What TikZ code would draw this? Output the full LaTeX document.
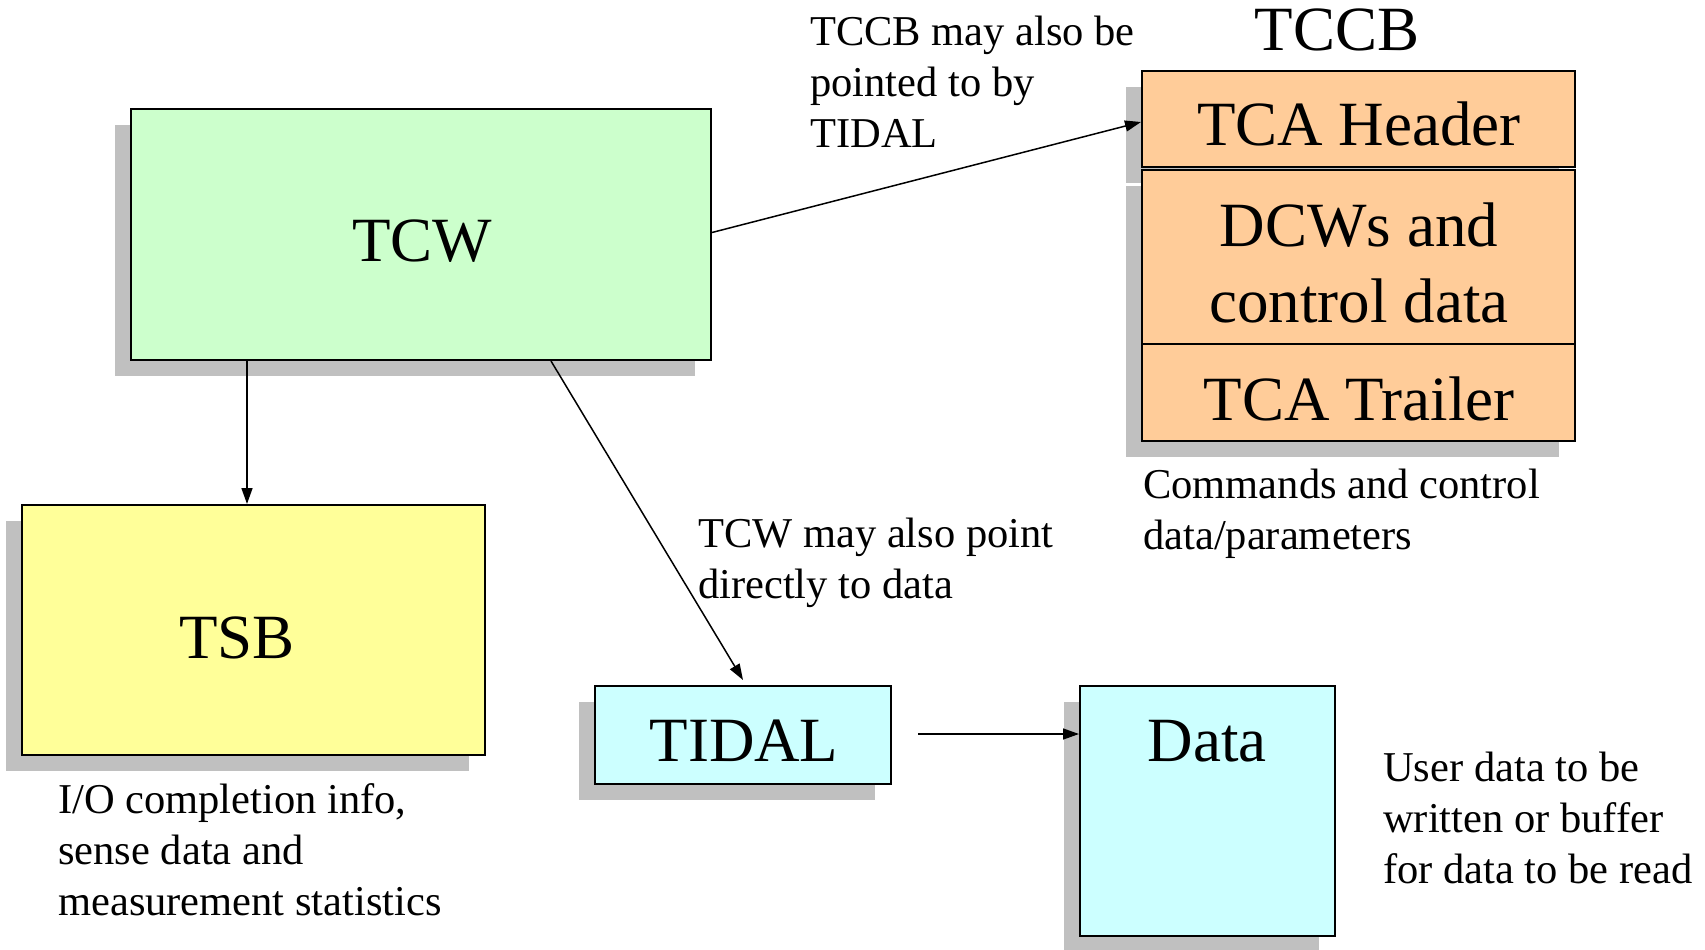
\documentclass[tikz,border=0pt]{standalone}
\usepackage{fontspec}
\setmainfont{Liberation Serif}
\usetikzlibrary{arrows.meta,shadows}
\definecolor{tcwgreen}{HTML}{CCFFCC}
\definecolor{tsbyellow}{HTML}{FFFF99}
\definecolor{cyanbox}{HTML}{CCFFFF}
\definecolor{tccborange}{HTML}{FFCC99}
\definecolor{shadowgray}{HTML}{C0C0C0}
\newcommand\bigtxt{\fontsize{63}{76}\selectfont}
\newcommand\smalltxt{\fontsize{42.5}{51}\selectfont}
\tikzset{
  box/.style={draw=black, line width=2pt, rectangle, inner sep=0pt,
    drop shadow={shadow xshift=-16pt, shadow yshift=-16pt, fill=shadowgray, opacity=1}},
  conn/.style={line width=1.5pt, -{Triangle[length=16pt,width=11pt]}},
  bigtext/.style={font=\bigtxt, inner sep=0pt, anchor=base},
  note/.style={font=\smalltxt, inner sep=0pt, anchor=base west},
}
\begin{document}
\begin{tikzpicture}[x=1pt,y=-1pt]
\useasboundingbox[fill=white] (0,0) rectangle (1705,950);
% boxes
\node[box, fill=tcwgreen, minimum width=580pt, minimum height=251pt] (tcw) at (421,234.5) {};
\node[box, fill=tsbyellow, minimum width=463pt, minimum height=250pt] (tsb) at (253.5,630) {};
\node[box, fill=cyanbox, minimum width=296pt, minimum height=98pt] (tidal) at (743,735) {};
\node[box, fill=cyanbox, minimum width=255pt, minimum height=250pt] (data) at (1207.5,811) {};
\node[box, fill=tccborange, minimum width=433pt, minimum height=96pt] (header) at (1358.5,119) {};
\node[box, fill=tccborange, minimum width=433pt, minimum height=174pt] (dcw) at (1358.5,257) {};
\node[box, fill=tccborange, minimum width=433pt, minimum height=97pt] (trailer) at (1358.5,392.5) {};
% box texts
\node[bigtext] (tcwtext) at (422,261) {TCW};
\node[bigtext] (tsbtext) at (237,658) {TSB};
\node[bigtext] (tidaltext) at (744,761) {TIDAL};
\node[bigtext] (datatext) at (1207,761) {Data};
\node[bigtext] (headertext) at (1359,145) {TCA Header};
\node[bigtext] (dcwtext) at (1359,246) {\begin{tabular}[t]{@{}c@{}}DCWs and\\control data\end{tabular}};
\node[bigtext] (trailertext) at (1359,420) {TCA Trailer};
\node[bigtext] (tccbtitle) at (1337,51) {TCCB};
% notes
\node[note] (note1) at (810,46) {\begin{tabular}[t]{@{}l@{}}TCCB may also be\\pointed to by\\TIDAL\end{tabular}};
\node[note] (note2) at (698,547) {\begin{tabular}[t]{@{}l@{}}TCW may also point\\directly to data\end{tabular}};
\node[note] (note3) at (1143,498) {\begin{tabular}[t]{@{}l@{}}Commands and control\\data/parameters\end{tabular}};
\node[note] (note4) at (58,813) {\begin{tabular}[t]{@{}l@{}}I/O completion info,\\sense data and\\measurement statistics\end{tabular}};
\node[note] (note5) at (1383,781) {\begin{tabular}[t]{@{}l@{}}User data to be\\written or buffer\\for data to be read\end{tabular}};
% connectors
\draw[conn] ([xshift=-174pt]tcw.south) -- ([xshift=-6.5pt]tsb.north);
\draw[conn] ([xshift=130pt]tcw.south) -- ([yshift=5pt]tidal.north);
\draw[conn] ([yshift=2pt]tcw.east) -- ([yshift=-3pt]header.west);
\draw[conn] ([xshift=26pt,yshift=1pt]tidal.east) -- ([yshift=77pt]data.west);
\end{tikzpicture}
\end{document}
